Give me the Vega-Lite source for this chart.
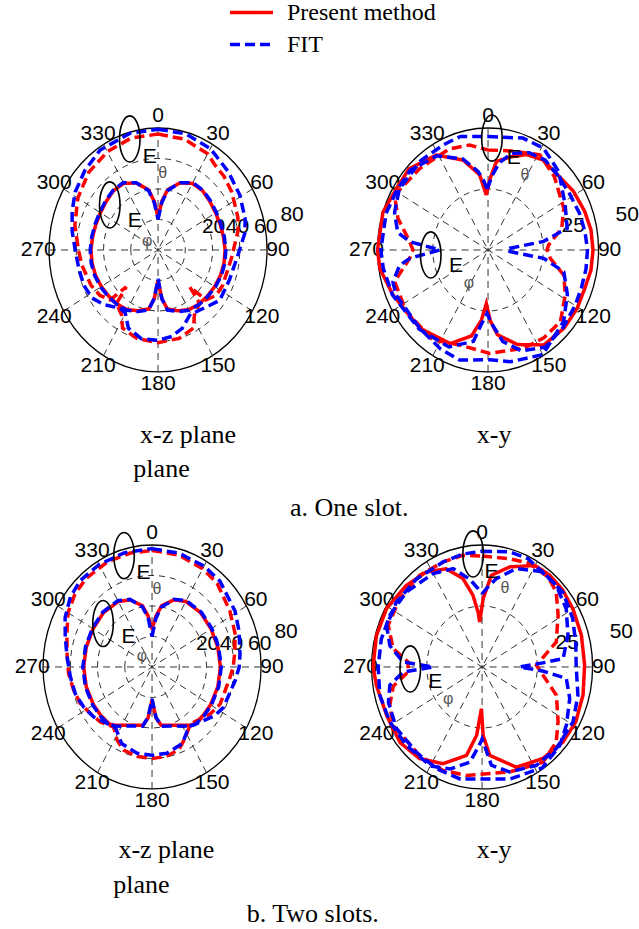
{
"$schema":"https://vega.github.io/schema/vega-lite/v6.json",
"padding":0,
"background":"white",
"config":{"view":{"stroke":null},
 "legend":{"orient":"none","legendX":230,"legendY":0,"symbolType":"M-2,0L2,0","symbolSize":462,"symbolOffset":9,"symbolStrokeWidth":3.5,"labelFont":"Liberation Serif","labelFontSize":24,"labelColor":"#000000","labelOffset":23,"rowPadding":7,"padding":0,"labelLimit":300}},
"resolve":{"scale":{"size":"independent"},"legend":{"size":"independent"}},
"datasets":{
"spokesXZ":[{"ang":0,"r":80},{"ang":30,"r":80},{"ang":60,"r":80},{"ang":90,"r":80},{"ang":120,"r":80},{"ang":150,"r":80},{"ang":180,"r":80},{"ang":210,"r":80},{"ang":240,"r":80},{"ang":270,"r":80},{"ang":300,"r":80},{"ang":330,"r":80}],
"spokesXY":[{"ang":0,"r":50},{"ang":30,"r":50},{"ang":60,"r":50},{"ang":90,"r":50},{"ang":120,"r":50},{"ang":150,"r":50},{"ang":180,"r":50},{"ang":210,"r":50},{"ang":240,"r":50},{"ang":270,"r":50},{"ang":300,"r":50},{"ang":330,"r":50}],
"ringsXZ":[{"ring":20},{"ring":40},{"ring":60}],
"outerXZ":[{"ring":80}],
"ringsXY":[{"ring":25}],
"outerXY":[{"ring":50}],
"angXZ":[{"ang":0,"r":88,"t":"0"},{"ang":30,"r":88,"t":"30"},{"ang":60,"r":88,"t":"60"},{"ang":90,"r":88,"t":"90"},{"ang":120,"r":88,"t":"120"},{"ang":150,"r":88,"t":"150"},{"ang":180,"r":88,"t":"180"},{"ang":210,"r":88,"t":"210"},{"ang":240,"r":88,"t":"240"},{"ang":270,"r":88,"t":"270"},{"ang":300,"r":88,"t":"300"},{"ang":330,"r":88,"t":"330"}],
"angXY":[{"ang":0,"r":55,"t":"0"},{"ang":30,"r":55,"t":"30"},{"ang":60,"r":55,"t":"60"},{"ang":90,"r":55,"t":"90"},{"ang":120,"r":55,"t":"120"},{"ang":150,"r":55,"t":"150"},{"ang":180,"r":55,"t":"180"},{"ang":210,"r":55,"t":"210"},{"ang":240,"r":55,"t":"240"},{"ang":270,"r":55,"t":"270"},{"ang":300,"r":55,"t":"300"},{"ang":330,"r":55,"t":"330"}],
"radXZ":[{"ang":69.6,"r":43.5,"t":"20"},{"ang":75.4,"r":60.3,"t":"40"},{"ang":79.1,"r":80.5,"t":"60"},{"ang":76.7,"r":101.1,"t":"80"}],
"radXY":[{"ang":75.9,"r":39.7,"t":"25"},{"ang":77.2,"r":64.6,"t":"50"}],
"annTL":[{"k":"ell","ang":344.1,"r":75.7},{"k":"ell","ang":309.8,"r":46.1},{"k":"E","ang":354.3,"r":61.3,"t":"E"},{"k":"E","ang":317.6,"r":25.4,"t":"E"},{"k":"s","ang":3.9,"r":50.3,"t":"θ"},{"k":"s","ang":306.8,"r":9.9,"t":"φ"}],
"annTR":[{"k":"ell","ang":2.2,"r":45.9},{"k":"ell","ang":265.5,"r":26},{"k":"E","ang":17.2,"r":39.3,"t":"E"},{"k":"E","ang":245.1,"r":16,"t":"E"},{"k":"s","ang":28.6,"r":35,"t":"θ"},{"k":"s","ang":212.6,"r":16,"t":"φ"}],
"annBL":[{"k":"ell","ang":344.3,"r":75.9},{"k":"ell","ang":308.4,"r":45.9},{"k":"E","ang":354.2,"r":61.9,"t":"E"},{"k":"E","ang":318.7,"r":26.2,"t":"E"},{"k":"s","ang":4.1,"r":51.3,"t":"θ"},{"k":"s","ang":314.4,"r":10.3,"t":"φ"}],
"annBR":[{"k":"ell","ang":355,"r":46.5},{"k":"ell","ang":268.6,"r":32.5},{"k":"E","ang":6.3,"r":39,"t":"E"},{"k":"E","ang":253.3,"r":22.1,"t":"E"},{"k":"s","ang":17.8,"r":34,"t":"θ"},{"k":"s","ang":229.5,"r":20.2,"t":"φ"}],
"cTL":[
{"m":"Present method","c":"t","ang":0,"r":76},{"m":"Present method","c":"t","ang":15,"r":75.2},{"m":"Present method","c":"t","ang":30,"r":72.8},{"m":"Present method","c":"t","ang":37,"r":69.6},{"m":"Present method","c":"t","ang":45,"r":68.4},{"m":"Present method","c":"t","ang":55,"r":66.1},{"m":"Present method","c":"t","ang":70,"r":62.4},{"m":"Present method","c":"t","ang":78,"r":60},{"m":"Present method","c":"t","ang":96,"r":54.1},{"m":"Present method","c":"t","ang":116,"r":52.8},{"m":"Present method","c":"t","ang":125,"r":52},{"m":"Present method","c":"t","ang":133,"r":48},{"m":"Present method","c":"t","ang":136,"r":33.6},{"m":"Present method","c":"t","ang":139,"r":46.4},{"m":"Present method","c":"t","ang":148,"r":50.4},{"m":"Present method","c":"t","ang":153,"r":57.4},{"m":"Present method","c":"t","ang":165,"r":60},{"m":"Present method","c":"t","ang":180,"r":60.8},{"m":"Present method","c":"t","ang":195,"r":60},{"m":"Present method","c":"t","ang":207,"r":57.4},{"m":"Present method","c":"t","ang":212,"r":50.4},{"m":"Present method","c":"t","ang":221,"r":46.4},{"m":"Present method","c":"t","ang":224,"r":33.6},{"m":"Present method","c":"t","ang":227,"r":48},{"m":"Present method","c":"t","ang":235,"r":52},{"m":"Present method","c":"t","ang":245,"r":54.4},{"m":"Present method","c":"t","ang":260,"r":56.8},{"m":"Present method","c":"t","ang":270,"r":58.4},{"m":"Present method","c":"t","ang":285,"r":63.2},{"m":"Present method","c":"t","ang":300,"r":68},{"m":"Present method","c":"t","ang":315,"r":72},{"m":"Present method","c":"t","ang":330,"r":74.4},{"m":"Present method","c":"t","ang":345,"r":76},{"m":"Present method","c":"t","ang":360,"r":76},
{"m":"Present method","c":"p","ang":0,"r":21.6},{"m":"Present method","c":"p","ang":5,"r":32},{"m":"Present method","c":"p","ang":10,"r":40},{"m":"Present method","c":"p","ang":20,"r":46.8},{"m":"Present method","c":"p","ang":30,"r":50.4},{"m":"Present method","c":"p","ang":40,"r":50.8},{"m":"Present method","c":"p","ang":50,"r":49.6},{"m":"Present method","c":"p","ang":60,"r":48.8},{"m":"Present method","c":"p","ang":70,"r":48.6},{"m":"Present method","c":"p","ang":80,"r":48.8},{"m":"Present method","c":"p","ang":90,"r":49.2},{"m":"Present method","c":"p","ang":100,"r":49.2},{"m":"Present method","c":"p","ang":110,"r":48.8},{"m":"Present method","c":"p","ang":120,"r":48},{"m":"Present method","c":"p","ang":130,"r":47.2},{"m":"Present method","c":"p","ang":140,"r":46.4},{"m":"Present method","c":"p","ang":150,"r":45.2},{"m":"Present method","c":"p","ang":160,"r":42.4},{"m":"Present method","c":"p","ang":170,"r":39.2},{"m":"Present method","c":"p","ang":175,"r":32},{"m":"Present method","c":"p","ang":180,"r":20},{"m":"Present method","c":"p","ang":185,"r":32},{"m":"Present method","c":"p","ang":190,"r":39.2},{"m":"Present method","c":"p","ang":200,"r":42.4},{"m":"Present method","c":"p","ang":210,"r":45.2},{"m":"Present method","c":"p","ang":220,"r":46.4},{"m":"Present method","c":"p","ang":230,"r":47.2},{"m":"Present method","c":"p","ang":240,"r":48},{"m":"Present method","c":"p","ang":250,"r":48.8},{"m":"Present method","c":"p","ang":260,"r":49.2},{"m":"Present method","c":"p","ang":270,"r":49.2},{"m":"Present method","c":"p","ang":280,"r":48.8},{"m":"Present method","c":"p","ang":290,"r":48.6},{"m":"Present method","c":"p","ang":300,"r":48.8},{"m":"Present method","c":"p","ang":310,"r":49.6},{"m":"Present method","c":"p","ang":320,"r":50.8},{"m":"Present method","c":"p","ang":330,"r":50.4},{"m":"Present method","c":"p","ang":340,"r":46.8},{"m":"Present method","c":"p","ang":350,"r":40},{"m":"Present method","c":"p","ang":355,"r":32},{"m":"Present method","c":"p","ang":360,"r":21.6},
{"m":"FIT","c":"t","ang":0,"r":79.2},{"m":"FIT","c":"t","ang":15,"r":78.8},{"m":"FIT","c":"t","ang":30,"r":76.8},{"m":"FIT","c":"t","ang":45,"r":72.8},{"m":"FIT","c":"t","ang":59,"r":70},{"m":"FIT","c":"t","ang":72,"r":67.2},{"m":"FIT","c":"t","ang":80,"r":64.8},{"m":"FIT","c":"t","ang":93,"r":58.8},{"m":"FIT","c":"t","ang":110,"r":56},{"m":"FIT","c":"t","ang":126,"r":56},{"m":"FIT","c":"t","ang":134,"r":52.4},{"m":"FIT","c":"t","ang":145,"r":49.3},{"m":"FIT","c":"t","ang":150,"r":48},{"m":"FIT","c":"t","ang":161,"r":54.4},{"m":"FIT","c":"t","ang":170,"r":57.6},{"m":"FIT","c":"t","ang":180,"r":59.2},{"m":"FIT","c":"t","ang":192,"r":59.4},{"m":"FIT","c":"t","ang":203,"r":55.7},{"m":"FIT","c":"t","ang":210,"r":48},{"m":"FIT","c":"t","ang":216,"r":47.2},{"m":"FIT","c":"t","ang":228,"r":53.6},{"m":"FIT","c":"t","ang":237,"r":57.8},{"m":"FIT","c":"t","ang":247,"r":59.2},{"m":"FIT","c":"t","ang":258,"r":59.4},{"m":"FIT","c":"t","ang":269,"r":60.6},{"m":"FIT","c":"t","ang":281,"r":64.2},{"m":"FIT","c":"t","ang":292,"r":68},{"m":"FIT","c":"t","ang":302,"r":71.7},{"m":"FIT","c":"t","ang":314,"r":74.8},{"m":"FIT","c":"t","ang":327,"r":78.1},{"m":"FIT","c":"t","ang":345,"r":79.2},{"m":"FIT","c":"t","ang":360,"r":79.2},
{"m":"FIT","c":"p","ang":0,"r":20},{"m":"FIT","c":"p","ang":5,"r":31},{"m":"FIT","c":"p","ang":10,"r":39.5},{"m":"FIT","c":"p","ang":20,"r":47},{"m":"FIT","c":"p","ang":30,"r":51},{"m":"FIT","c":"p","ang":40,"r":51.2},{"m":"FIT","c":"p","ang":50,"r":50.2},{"m":"FIT","c":"p","ang":60,"r":49.4},{"m":"FIT","c":"p","ang":70,"r":49.2},{"m":"FIT","c":"p","ang":80,"r":49.4},{"m":"FIT","c":"p","ang":90,"r":49.8},{"m":"FIT","c":"p","ang":100,"r":49.8},{"m":"FIT","c":"p","ang":110,"r":49.4},{"m":"FIT","c":"p","ang":120,"r":48.6},{"m":"FIT","c":"p","ang":130,"r":47.6},{"m":"FIT","c":"p","ang":140,"r":46.8},{"m":"FIT","c":"p","ang":150,"r":45.6},{"m":"FIT","c":"p","ang":160,"r":43},{"m":"FIT","c":"p","ang":170,"r":40},{"m":"FIT","c":"p","ang":175,"r":32},{"m":"FIT","c":"p","ang":180,"r":19},{"m":"FIT","c":"p","ang":185,"r":32},{"m":"FIT","c":"p","ang":190,"r":40},{"m":"FIT","c":"p","ang":200,"r":43},{"m":"FIT","c":"p","ang":210,"r":45.6},{"m":"FIT","c":"p","ang":220,"r":46.8},{"m":"FIT","c":"p","ang":230,"r":47.6},{"m":"FIT","c":"p","ang":240,"r":48.6},{"m":"FIT","c":"p","ang":250,"r":49.4},{"m":"FIT","c":"p","ang":260,"r":49.8},{"m":"FIT","c":"p","ang":270,"r":49.8},{"m":"FIT","c":"p","ang":280,"r":49.4},{"m":"FIT","c":"p","ang":290,"r":49.2},{"m":"FIT","c":"p","ang":300,"r":49.4},{"m":"FIT","c":"p","ang":310,"r":50.2},{"m":"FIT","c":"p","ang":320,"r":51.2},{"m":"FIT","c":"p","ang":330,"r":51},{"m":"FIT","c":"p","ang":340,"r":47},{"m":"FIT","c":"p","ang":350,"r":39.5},{"m":"FIT","c":"p","ang":355,"r":31},{"m":"FIT","c":"p","ang":360,"r":20}],
"cBL":[
{"m":"Present method","c":"t","ang":0,"r":76.4},{"m":"Present method","c":"t","ang":15,"r":76},{"m":"Present method","c":"t","ang":30,"r":74.4},{"m":"Present method","c":"t","ang":41,"r":72.8},{"m":"Present method","c":"t","ang":57,"r":68},{"m":"Present method","c":"t","ang":70,"r":64.8},{"m":"Present method","c":"t","ang":80,"r":61.8},{"m":"Present method","c":"t","ang":90,"r":59.6},{"m":"Present method","c":"t","ang":97,"r":57.6},{"m":"Present method","c":"t","ang":116,"r":55.6},{"m":"Present method","c":"t","ang":126,"r":52.6},{"m":"Present method","c":"t","ang":134,"r":49.2},{"m":"Present method","c":"t","ang":143,"r":46.8},{"m":"Present method","c":"t","ang":152,"r":52.3},{"m":"Present method","c":"t","ang":160,"r":57.6},{"m":"Present method","c":"t","ang":170,"r":59.6},{"m":"Present method","c":"t","ang":180,"r":60},{"m":"Present method","c":"t","ang":190,"r":59.6},{"m":"Present method","c":"t","ang":201,"r":58.4},{"m":"Present method","c":"t","ang":208,"r":54.5},{"m":"Present method","c":"t","ang":215.6,"r":48.4},{"m":"Present method","c":"t","ang":226.5,"r":52.3},{"m":"Present method","c":"t","ang":236,"r":54.6},{"m":"Present method","c":"t","ang":245.5,"r":57.8},{"m":"Present method","c":"t","ang":255,"r":59.5},{"m":"Present method","c":"t","ang":266,"r":61.4},{"m":"Present method","c":"t","ang":278,"r":63},{"m":"Present method","c":"t","ang":289,"r":66.1},{"m":"Present method","c":"t","ang":300,"r":71.2},{"m":"Present method","c":"t","ang":310,"r":74},{"m":"Present method","c":"t","ang":320,"r":75.6},{"m":"Present method","c":"t","ang":335,"r":76.4},{"m":"Present method","c":"t","ang":348,"r":76.4},{"m":"Present method","c":"t","ang":360,"r":76.4},
{"m":"Present method","c":"p","ang":0,"r":24.8},{"m":"Present method","c":"p","ang":5,"r":33.6},{"m":"Present method","c":"p","ang":10,"r":40.8},{"m":"Present method","c":"p","ang":20,"r":46.8},{"m":"Present method","c":"p","ang":30,"r":49.6},{"m":"Present method","c":"p","ang":45,"r":50.4},{"m":"Present method","c":"p","ang":60,"r":50},{"m":"Present method","c":"p","ang":75,"r":50},{"m":"Present method","c":"p","ang":90,"r":50.2},{"m":"Present method","c":"p","ang":105,"r":50},{"m":"Present method","c":"p","ang":120,"r":49.6},{"m":"Present method","c":"p","ang":130,"r":49.2},{"m":"Present method","c":"p","ang":140,"r":48.8},{"m":"Present method","c":"p","ang":145,"r":46.7},{"m":"Present method","c":"p","ang":150,"r":44.2},{"m":"Present method","c":"p","ang":160,"r":40.7},{"m":"Present method","c":"p","ang":170,"r":38.8},{"m":"Present method","c":"p","ang":175,"r":33.6},{"m":"Present method","c":"p","ang":180,"r":21.6},{"m":"Present method","c":"p","ang":185,"r":33.6},{"m":"Present method","c":"p","ang":190,"r":38.8},{"m":"Present method","c":"p","ang":200,"r":40.7},{"m":"Present method","c":"p","ang":210,"r":44.2},{"m":"Present method","c":"p","ang":215,"r":46.7},{"m":"Present method","c":"p","ang":220,"r":48.8},{"m":"Present method","c":"p","ang":230,"r":49.2},{"m":"Present method","c":"p","ang":240,"r":49.6},{"m":"Present method","c":"p","ang":255,"r":50},{"m":"Present method","c":"p","ang":270,"r":50.2},{"m":"Present method","c":"p","ang":285,"r":50},{"m":"Present method","c":"p","ang":300,"r":50},{"m":"Present method","c":"p","ang":315,"r":50.4},{"m":"Present method","c":"p","ang":330,"r":49.6},{"m":"Present method","c":"p","ang":340,"r":46.8},{"m":"Present method","c":"p","ang":350,"r":40.8},{"m":"Present method","c":"p","ang":355,"r":33.6},{"m":"Present method","c":"p","ang":360,"r":24.8},
{"m":"FIT","c":"t","ang":0,"r":77.6},{"m":"FIT","c":"t","ang":15,"r":77.2},{"m":"FIT","c":"t","ang":30,"r":76.4},{"m":"FIT","c":"t","ang":41.5,"r":75.2},{"m":"FIT","c":"t","ang":59,"r":71.1},{"m":"FIT","c":"t","ang":70,"r":68},{"m":"FIT","c":"t","ang":82.6,"r":65.1},{"m":"FIT","c":"t","ang":90,"r":64},{"m":"FIT","c":"t","ang":98.6,"r":61.6},{"m":"FIT","c":"t","ang":117,"r":58.7},{"m":"FIT","c":"t","ang":124.7,"r":56},{"m":"FIT","c":"t","ang":133,"r":51.6},{"m":"FIT","c":"t","ang":145.6,"r":47.6},{"m":"FIT","c":"t","ang":156,"r":54.9},{"m":"FIT","c":"t","ang":169,"r":57.6},{"m":"FIT","c":"t","ang":180,"r":57.9},{"m":"FIT","c":"t","ang":191,"r":57.6},{"m":"FIT","c":"t","ang":204,"r":54.9},{"m":"FIT","c":"t","ang":214,"r":48},{"m":"FIT","c":"t","ang":221.7,"r":49.6},{"m":"FIT","c":"t","ang":232.5,"r":53.9},{"m":"FIT","c":"t","ang":242,"r":56.6},{"m":"FIT","c":"t","ang":252.7,"r":59},{"m":"FIT","c":"t","ang":264,"r":60.3},{"m":"FIT","c":"t","ang":276,"r":62.7},{"m":"FIT","c":"t","ang":287,"r":66.6},{"m":"FIT","c":"t","ang":297,"r":71.6},{"m":"FIT","c":"t","ang":307.5,"r":75.5},{"m":"FIT","c":"t","ang":317,"r":77.4},{"m":"FIT","c":"t","ang":330,"r":77.6},{"m":"FIT","c":"t","ang":345,"r":77.6},{"m":"FIT","c":"t","ang":360,"r":77.6},
{"m":"FIT","c":"p","ang":0,"r":20},{"m":"FIT","c":"p","ang":5,"r":32},{"m":"FIT","c":"p","ang":10,"r":40},{"m":"FIT","c":"p","ang":20,"r":47.2},{"m":"FIT","c":"p","ang":30,"r":50.2},{"m":"FIT","c":"p","ang":45,"r":51},{"m":"FIT","c":"p","ang":60,"r":50.6},{"m":"FIT","c":"p","ang":75,"r":50.6},{"m":"FIT","c":"p","ang":90,"r":50.8},{"m":"FIT","c":"p","ang":105,"r":50.6},{"m":"FIT","c":"p","ang":120,"r":50.2},{"m":"FIT","c":"p","ang":130,"r":49.8},{"m":"FIT","c":"p","ang":140,"r":49.2},{"m":"FIT","c":"p","ang":145,"r":47.2},{"m":"FIT","c":"p","ang":150,"r":44.8},{"m":"FIT","c":"p","ang":160,"r":41.2},{"m":"FIT","c":"p","ang":170,"r":39.4},{"m":"FIT","c":"p","ang":175,"r":33},{"m":"FIT","c":"p","ang":180,"r":21},{"m":"FIT","c":"p","ang":185,"r":33},{"m":"FIT","c":"p","ang":190,"r":39.4},{"m":"FIT","c":"p","ang":200,"r":41.2},{"m":"FIT","c":"p","ang":210,"r":44.8},{"m":"FIT","c":"p","ang":215,"r":47.2},{"m":"FIT","c":"p","ang":220,"r":49.2},{"m":"FIT","c":"p","ang":230,"r":49.8},{"m":"FIT","c":"p","ang":240,"r":50.2},{"m":"FIT","c":"p","ang":255,"r":50.6},{"m":"FIT","c":"p","ang":270,"r":50.8},{"m":"FIT","c":"p","ang":285,"r":50.6},{"m":"FIT","c":"p","ang":300,"r":50.6},{"m":"FIT","c":"p","ang":315,"r":51},{"m":"FIT","c":"p","ang":330,"r":50.2},{"m":"FIT","c":"p","ang":340,"r":47.2},{"m":"FIT","c":"p","ang":350,"r":40},{"m":"FIT","c":"p","ang":355,"r":32},{"m":"FIT","c":"p","ang":360,"r":20}],
"cTR":[
{"m":"Present method","c":"t","ang":0,"r":41},{"m":"Present method","c":"t","ang":15,"r":42},{"m":"Present method","c":"t","ang":31,"r":45.5},{"m":"Present method","c":"t","ang":45,"r":42.5},{"m":"Present method","c":"t","ang":53,"r":40},{"m":"Present method","c":"t","ang":63.5,"r":38.3},{"m":"Present method","c":"t","ang":75,"r":34.5},{"m":"Present method","c":"t","ang":85.7,"r":27.5},{"m":"Present method","c":"t","ang":90,"r":26.7},{"m":"Present method","c":"t","ang":97,"r":28.4},{"m":"Present method","c":"t","ang":106.7,"r":35.8},{"m":"Present method","c":"t","ang":117.8,"r":39.5},{"m":"Present method","c":"t","ang":131.9,"r":44},{"m":"Present method","c":"t","ang":145,"r":44},{"m":"Present method","c":"t","ang":158,"r":43.4},{"m":"Present method","c":"t","ang":178.8,"r":42.4},{"m":"Present method","c":"t","ang":198,"r":41},{"m":"Present method","c":"t","ang":214,"r":44.5},{"m":"Present method","c":"t","ang":235.6,"r":44.8},{"m":"Present method","c":"t","ang":253,"r":44.2},{"m":"Present method","c":"t","ang":264.5,"r":35.6},{"m":"Present method","c":"t","ang":270,"r":34},{"m":"Present method","c":"t","ang":275.5,"r":35.6},{"m":"Present method","c":"t","ang":287.7,"r":42.8},{"m":"Present method","c":"t","ang":298,"r":47.9},{"m":"Present method","c":"t","ang":317,"r":45.5},{"m":"Present method","c":"t","ang":337,"r":45},{"m":"Present method","c":"t","ang":349,"r":43.8},{"m":"Present method","c":"t","ang":360,"r":41},
{"m":"Present method","c":"p","ang":-2,"r":22.5},{"m":"Present method","c":"p","ang":2,"r":29.5},{"m":"Present method","c":"p","ang":6,"r":36.5},{"m":"Present method","c":"p","ang":15,"r":39.5},{"m":"Present method","c":"p","ang":24,"r":42.8},{"m":"Present method","c":"p","ang":34,"r":44.5},{"m":"Present method","c":"p","ang":45,"r":44},{"m":"Present method","c":"p","ang":58,"r":45.5},{"m":"Present method","c":"p","ang":70,"r":46.5},{"m":"Present method","c":"p","ang":80,"r":47.3},{"m":"Present method","c":"p","ang":90,"r":47.5},{"m":"Present method","c":"p","ang":100,"r":47.3},{"m":"Present method","c":"p","ang":110,"r":46.5},{"m":"Present method","c":"p","ang":121,"r":46.9},{"m":"Present method","c":"p","ang":133,"r":47},{"m":"Present method","c":"p","ang":147,"r":46.4},{"m":"Present method","c":"p","ang":161,"r":41},{"m":"Present method","c":"p","ang":173,"r":35},{"m":"Present method","c":"p","ang":178,"r":29},{"m":"Present method","c":"p","ang":182,"r":22},{"m":"Present method","c":"p","ang":186,"r":29},{"m":"Present method","c":"p","ang":192,"r":36},{"m":"Present method","c":"p","ang":204,"r":42},{"m":"Present method","c":"p","ang":224,"r":44.5},{"m":"Present method","c":"p","ang":247,"r":46.8},{"m":"Present method","c":"p","ang":261,"r":49.5},{"m":"Present method","c":"p","ang":270,"r":50},{"m":"Present method","c":"p","ang":288,"r":50},{"m":"Present method","c":"p","ang":301,"r":48.5},{"m":"Present method","c":"p","ang":313,"r":48.8},{"m":"Present method","c":"p","ang":329,"r":45.4},{"m":"Present method","c":"p","ang":343,"r":38.5},{"m":"Present method","c":"p","ang":353,"r":31},{"m":"Present method","c":"p","ang":358,"r":22.5},
{"m":"FIT","c":"t","ang":0,"r":46.5},{"m":"FIT","c":"t","ang":19,"r":48.5},{"m":"FIT","c":"t","ang":31,"r":48.7},{"m":"FIT","c":"t","ang":45,"r":45.3},{"m":"FIT","c":"t","ang":62,"r":39.5},{"m":"FIT","c":"t","ang":76,"r":36.9},{"m":"FIT","c":"t","ang":82,"r":25.4},{"m":"FIT","c":"t","ang":86,"r":10},{"m":"FIT","c":"t","ang":90,"r":8.5},{"m":"FIT","c":"t","ang":94,"r":10},{"m":"FIT","c":"t","ang":97.7,"r":25.4},{"m":"FIT","c":"t","ang":104.6,"r":35.4},{"m":"FIT","c":"t","ang":117,"r":40.3},{"m":"FIT","c":"t","ang":130.6,"r":45},{"m":"FIT","c":"t","ang":150,"r":49.5},{"m":"FIT","c":"t","ang":167.7,"r":46.9},{"m":"FIT","c":"t","ang":179,"r":45},{"m":"FIT","c":"t","ang":196,"r":46.9},{"m":"FIT","c":"t","ang":208,"r":45.9},{"m":"FIT","c":"t","ang":224,"r":44.5},{"m":"FIT","c":"t","ang":246,"r":45.5},{"m":"FIT","c":"t","ang":253,"r":45},{"m":"FIT","c":"t","ang":261,"r":40.5},{"m":"FIT","c":"t","ang":264.5,"r":35.5},{"m":"FIT","c":"t","ang":270,"r":21.8},{"m":"FIT","c":"t","ang":275.5,"r":35.5},{"m":"FIT","c":"t","ang":280,"r":41.5},{"m":"FIT","c":"t","ang":290,"r":45},{"m":"FIT","c":"t","ang":302,"r":47.3},{"m":"FIT","c":"t","ang":320.5,"r":47.6},{"m":"FIT","c":"t","ang":335,"r":47.6},{"m":"FIT","c":"t","ang":345,"r":48.2},{"m":"FIT","c":"t","ang":360,"r":46.5},
{"m":"FIT","c":"p","ang":-1,"r":25},{"m":"FIT","c":"p","ang":4,"r":31},{"m":"FIT","c":"p","ang":8,"r":36},{"m":"FIT","c":"p","ang":15,"r":41},{"m":"FIT","c":"p","ang":25,"r":44},{"m":"FIT","c":"p","ang":35,"r":45},{"m":"FIT","c":"p","ang":45,"r":44},{"m":"FIT","c":"p","ang":58,"r":43.5},{"m":"FIT","c":"p","ang":70,"r":44},{"m":"FIT","c":"p","ang":80,"r":44.5},{"m":"FIT","c":"p","ang":90,"r":45},{"m":"FIT","c":"p","ang":100,"r":45},{"m":"FIT","c":"p","ang":110,"r":45},{"m":"FIT","c":"p","ang":120,"r":45.5},{"m":"FIT","c":"p","ang":133,"r":46.5},{"m":"FIT","c":"p","ang":147,"r":47.5},{"m":"FIT","c":"p","ang":160,"r":44},{"m":"FIT","c":"p","ang":170,"r":38},{"m":"FIT","c":"p","ang":176,"r":31},{"m":"FIT","c":"p","ang":181,"r":26},{"m":"FIT","c":"p","ang":186,"r":31},{"m":"FIT","c":"p","ang":190,"r":38},{"m":"FIT","c":"p","ang":204,"r":43.5},{"m":"FIT","c":"p","ang":224,"r":45},{"m":"FIT","c":"p","ang":247,"r":47},{"m":"FIT","c":"p","ang":261,"r":48},{"m":"FIT","c":"p","ang":270,"r":48.5},{"m":"FIT","c":"p","ang":288,"r":48.5},{"m":"FIT","c":"p","ang":301,"r":48},{"m":"FIT","c":"p","ang":313,"r":48},{"m":"FIT","c":"p","ang":329,"r":45},{"m":"FIT","c":"p","ang":343,"r":39},{"m":"FIT","c":"p","ang":352,"r":32.5},{"m":"FIT","c":"p","ang":356,"r":28.5},{"m":"FIT","c":"p","ang":359,"r":25}],
"cBR":[
{"m":"Present method","c":"t","ang":0,"r":45.5},{"m":"Present method","c":"t","ang":15.7,"r":46.1},{"m":"Present method","c":"t","ang":26.6,"r":47.5},{"m":"Present method","c":"t","ang":39,"r":47.5},{"m":"Present method","c":"t","ang":47.5,"r":45.5},{"m":"Present method","c":"t","ang":58.4,"r":40.4},{"m":"Present method","c":"t","ang":73,"r":35.1},{"m":"Present method","c":"t","ang":81.8,"r":27.9},{"m":"Present method","c":"t","ang":88.4,"r":24.6},{"m":"Present method","c":"t","ang":97,"r":27.8},{"m":"Present method","c":"t","ang":109,"r":35.6},{"m":"Present method","c":"t","ang":123,"r":41},{"m":"Present method","c":"t","ang":132.5,"r":45.5},{"m":"Present method","c":"t","ang":144.8,"r":47.8},{"m":"Present method","c":"t","ang":163.8,"r":44.8},{"m":"Present method","c":"t","ang":189,"r":45},{"m":"Present method","c":"t","ang":202.6,"r":45.9},{"m":"Present method","c":"t","ang":217.8,"r":46},{"m":"Present method","c":"t","ang":239,"r":46.8},{"m":"Present method","c":"t","ang":249.4,"r":44.6},{"m":"Present method","c":"t","ang":259,"r":40.9},{"m":"Present method","c":"t","ang":266.5,"r":33.5},{"m":"Present method","c":"t","ang":270,"r":33.5},{"m":"Present method","c":"t","ang":273.5,"r":33.5},{"m":"Present method","c":"t","ang":280.6,"r":40.9},{"m":"Present method","c":"t","ang":292,"r":45.8},{"m":"Present method","c":"t","ang":307,"r":46.6},{"m":"Present method","c":"t","ang":323,"r":47},{"m":"Present method","c":"t","ang":337.8,"r":46.5},{"m":"Present method","c":"t","ang":349,"r":46.6},{"m":"Present method","c":"t","ang":360,"r":45.5},
{"m":"Present method","c":"p","ang":-3.3,"r":18.5},{"m":"Present method","c":"p","ang":1,"r":28},{"m":"Present method","c":"p","ang":6.4,"r":37.8},{"m":"Present method","c":"p","ang":17,"r":42.9},{"m":"Present method","c":"p","ang":30,"r":48},{"m":"Present method","c":"p","ang":39,"r":48.5},{"m":"Present method","c":"p","ang":48.7,"r":48.3},{"m":"Present method","c":"p","ang":60,"r":47.5},{"m":"Present method","c":"p","ang":73.8,"r":46.8},{"m":"Present method","c":"p","ang":89,"r":46.4},{"m":"Present method","c":"p","ang":104,"r":47.1},{"m":"Present method","c":"p","ang":118,"r":48},{"m":"Present method","c":"p","ang":130,"r":47.8},{"m":"Present method","c":"p","ang":143.7,"r":46.5},{"m":"Present method","c":"p","ang":159.3,"r":43.9},{"m":"Present method","c":"p","ang":174.5,"r":36.4},{"m":"Present method","c":"p","ang":179,"r":28},{"m":"Present method","c":"p","ang":181,"r":17.1},{"m":"Present method","c":"p","ang":185,"r":28.1},{"m":"Present method","c":"p","ang":191,"r":36.9},{"m":"Present method","c":"p","ang":204,"r":43.4},{"m":"Present method","c":"p","ang":217,"r":47},{"m":"Present method","c":"p","ang":230,"r":48.3},{"m":"Present method","c":"p","ang":245,"r":47.5},{"m":"Present method","c":"p","ang":261,"r":48.4},{"m":"Present method","c":"p","ang":270,"r":49.3},{"m":"Present method","c":"p","ang":285,"r":49.5},{"m":"Present method","c":"p","ang":299,"r":49.4},{"m":"Present method","c":"p","ang":314,"r":47.9},{"m":"Present method","c":"p","ang":327,"r":46.4},{"m":"Present method","c":"p","ang":338,"r":43.4},{"m":"Present method","c":"p","ang":346.6,"r":37.2},{"m":"Present method","c":"p","ang":352,"r":29.7},{"m":"Present method","c":"p","ang":355.4,"r":22.6},{"m":"Present method","c":"p","ang":356.7,"r":18.5},
{"m":"FIT","c":"t","ang":0,"r":47.4},{"m":"FIT","c":"t","ang":14.7,"r":48.8},{"m":"FIT","c":"t","ang":25,"r":49},{"m":"FIT","c":"t","ang":45,"r":47.4},{"m":"FIT","c":"t","ang":58,"r":44.9},{"m":"FIT","c":"t","ang":71.5,"r":41},{"m":"FIT","c":"t","ang":84.7,"r":36.8},{"m":"FIT","c":"t","ang":86.5,"r":27.5},{"m":"FIT","c":"t","ang":90,"r":17},{"m":"FIT","c":"t","ang":93.5,"r":27.5},{"m":"FIT","c":"t","ang":97,"r":38.4},{"m":"FIT","c":"t","ang":108,"r":41.7},{"m":"FIT","c":"t","ang":122,"r":45},{"m":"FIT","c":"t","ang":132.6,"r":47.7},{"m":"FIT","c":"t","ang":146.6,"r":49.5},{"m":"FIT","c":"t","ang":164.8,"r":47.6},{"m":"FIT","c":"t","ang":179.4,"r":45.9},{"m":"FIT","c":"t","ang":192,"r":47},{"m":"FIT","c":"t","ang":206,"r":46.5},{"m":"FIT","c":"t","ang":220,"r":45.9},{"m":"FIT","c":"t","ang":237,"r":46.2},{"m":"FIT","c":"t","ang":251,"r":44.8},{"m":"FIT","c":"t","ang":259.8,"r":42.4},{"m":"FIT","c":"t","ang":266.7,"r":35.8},{"m":"FIT","c":"t","ang":270,"r":22.2},{"m":"FIT","c":"t","ang":273.3,"r":35.8},{"m":"FIT","c":"t","ang":281.8,"r":42.6},{"m":"FIT","c":"t","ang":291.4,"r":46.4},{"m":"FIT","c":"t","ang":304.5,"r":47},{"m":"FIT","c":"t","ang":320.6,"r":46.7},{"m":"FIT","c":"t","ang":337.8,"r":46.5},{"m":"FIT","c":"t","ang":349.5,"r":47.1},{"m":"FIT","c":"t","ang":360,"r":47.4},
{"m":"FIT","c":"p","ang":0,"r":30},{"m":"FIT","c":"p","ang":3.5,"r":32.2},{"m":"FIT","c":"p","ang":10,"r":36.7},{"m":"FIT","c":"p","ang":21,"r":43.2},{"m":"FIT","c":"p","ang":35,"r":47.7},{"m":"FIT","c":"p","ang":50,"r":47.7},{"m":"FIT","c":"p","ang":64,"r":45.6},{"m":"FIT","c":"p","ang":77,"r":43.5},{"m":"FIT","c":"p","ang":90,"r":42.6},{"m":"FIT","c":"p","ang":105,"r":44.9},{"m":"FIT","c":"p","ang":118.7,"r":46.9},{"m":"FIT","c":"p","ang":134.9,"r":47.4},{"m":"FIT","c":"p","ang":148.6,"r":47.2},{"m":"FIT","c":"p","ang":163.8,"r":44.8},{"m":"FIT","c":"p","ang":174,"r":40.5},{"m":"FIT","c":"p","ang":179,"r":30.8},{"m":"FIT","c":"p","ang":180,"r":29.5},{"m":"FIT","c":"p","ang":181,"r":30.8},{"m":"FIT","c":"p","ang":188,"r":39.4},{"m":"FIT","c":"p","ang":199,"r":44.2},{"m":"FIT","c":"p","ang":210,"r":46.8},{"m":"FIT","c":"p","ang":226.8,"r":46.9},{"m":"FIT","c":"p","ang":241.6,"r":47.4},{"m":"FIT","c":"p","ang":256,"r":47.7},{"m":"FIT","c":"p","ang":270,"r":47},{"m":"FIT","c":"p","ang":284,"r":47},{"m":"FIT","c":"p","ang":297,"r":46.8},{"m":"FIT","c":"p","ang":312,"r":46},{"m":"FIT","c":"p","ang":330,"r":44.2},{"m":"FIT","c":"p","ang":342,"r":42.4},{"m":"FIT","c":"p","ang":351,"r":36.5},{"m":"FIT","c":"p","ang":356.8,"r":32.2},{"m":"FIT","c":"p","ang":360,"r":30}]
},
"columns":2,
"spacing":{"row":0,"column":22},
"bounds":"flush",
"concat":[
{"width":308,"height":417,
 "layer":[
  {"data":{"name":"ringsXZ"},"mark":{"type":"point","shape":"M-1,0C-1,-0.618 -0.552,-1.119 0,-1.119C0.552,-1.119 1,-0.618 1,0C1,0.618 0.552,1.119 0,1.119C-0.552,1.119 -1,0.618 -1,0Z","filled":false,"stroke":"#333333","strokeWidth":1,"strokeDash":[6,5],"opacity":1},
   "encoding":{"x":{"datum":0,"type":"quantitative","scale":{"domain":[-116,110.08],"nice":false},"axis":null},"y":{"datum":0,"type":"quantitative","scale":{"domain":[-109.52,163.92],"nice":false},"axis":null},"size":{"field":"ring","type":"quantitative","scale":{"type":"pow","exponent":2,"domain":[0,80],"range":[0,47524]},"legend":null}}},
  {"data":{"name":"outerXZ"},"mark":{"type":"point","shape":"M-1,0C-1,-0.618 -0.552,-1.119 0,-1.119C0.552,-1.119 1,-0.618 1,0C1,0.618 0.552,1.119 0,1.119C-0.552,1.119 -1,0.618 -1,0Z","filled":false,"stroke":"#000000","strokeWidth":1.3,"opacity":1},
   "encoding":{"x":{"datum":0,"type":"quantitative","scale":{"domain":[-116,110.08],"nice":false},"axis":null},"y":{"datum":0,"type":"quantitative","scale":{"domain":[-109.52,163.92],"nice":false},"axis":null},"size":{"field":"ring","type":"quantitative","scale":{"type":"pow","exponent":2,"domain":[0,80],"range":[0,47524]},"legend":null}}},
  {"data":{"name":"spokesXZ"},"transform":[{"calculate":"datum.r*sin(datum.ang*PI/180)","as":"px"},{"calculate":"datum.r*cos(datum.ang*PI/180)","as":"py"}],
   "mark":{"type":"rule","stroke":"#333333","strokeWidth":1,"strokeDash":[7,5]},
   "encoding":{"x":{"field":"px","type":"quantitative","scale":{"domain":[-116,110.08],"nice":false},"axis":null},"y":{"field":"py","type":"quantitative","scale":{"domain":[-109.52,163.92],"nice":false},"axis":null},"x2":{"datum":0},"y2":{"datum":0}}},
  {"data":{"name":"angXZ"},"transform":[{"calculate":"datum.r*sin(datum.ang*PI/180)","as":"px"},{"calculate":"datum.r*cos(datum.ang*PI/180)","as":"py"}],
   "mark":{"type":"text","font":"Liberation Sans","fontSize":21,"align":"center","baseline":"middle","color":"#000000"},
   "encoding":{"x":{"field":"px","type":"quantitative","scale":{"domain":[-116,110.08],"nice":false},"axis":null},"y":{"field":"py","type":"quantitative","scale":{"domain":[-109.52,163.92],"nice":false},"axis":null},"text":{"field":"t"}}},
  {"data":{"name":"radXZ"},"transform":[{"calculate":"datum.r*sin(datum.ang*PI/180)","as":"px"},{"calculate":"datum.r*cos(datum.ang*PI/180)","as":"py"}],
   "mark":{"type":"text","font":"Liberation Sans","fontSize":21,"align":"center","baseline":"middle","color":"#000000"},
   "encoding":{"x":{"field":"px","type":"quantitative","scale":{"domain":[-116,110.08],"nice":false},"axis":null},"y":{"field":"py","type":"quantitative","scale":{"domain":[-109.52,163.92],"nice":false},"axis":null},"text":{"field":"t"}}},
  {"data":{"name":"cTL"},"transform":[{"filter":"datum.m == 'Present method' && datum.c == 't'"},{"calculate":"datum.r*sin(datum.ang*PI/180)","as":"px"},{"calculate":"datum.r*cos(datum.ang*PI/180)","as":"py"}],
   "mark":{"type":"line","stroke":"#ff0000","strokeWidth":3.5,"strokeDash":[10,5]},
   "encoding":{"x":{"field":"px","type":"quantitative","scale":{"domain":[-116,110.08],"nice":false},"axis":null},"y":{"field":"py","type":"quantitative","scale":{"domain":[-109.52,163.92],"nice":false},"axis":null},"order":{"field":"ang","type":"quantitative"}}},
  {"data":{"name":"cTL"},"transform":[{"filter":"!(datum.m == 'Present method' && datum.c == 't')"},{"calculate":"datum.r*sin(datum.ang*PI/180)","as":"px"},{"calculate":"datum.r*cos(datum.ang*PI/180)","as":"py"}],
   "mark":{"type":"line","strokeWidth":3.5},
   "encoding":{"x":{"field":"px","type":"quantitative","scale":{"domain":[-116,110.08],"nice":false},"axis":null},"y":{"field":"py","type":"quantitative","scale":{"domain":[-109.52,163.92],"nice":false},"axis":null},"order":{"field":"ang","type":"quantitative"},"detail":{"field":"c"},
    "color":{"field":"m","type":"nominal","scale":{"domain":["Present method","FIT"],"range":["#ff0000","#0000ff"]},"legend":{"title":null}},
    "strokeDash":{"field":"m","type":"nominal","scale":{"domain":["Present method","FIT"],"range":[[1,0],[10,5]]},"legend":{"title":null}}}},
  {"data":{"name":"annTL"},"transform":[{"filter":"datum.k == 'ell'"},{"calculate":"datum.r*sin(datum.ang*PI/180)","as":"px"},{"calculate":"datum.r*cos(datum.ang*PI/180)","as":"py"}],
   "mark":{"type":"point","shape":"M-1,0C-1,-1.243 -0.552,-2.25 0,-2.25C0.552,-2.25 1,-1.243 1,0C1,1.243 0.552,2.25 0,2.25C-0.552,2.25 -1,1.243 -1,0Z","filled":false,"stroke":"#000000","strokeWidth":1.6,"opacity":1,"size":420},
   "encoding":{"x":{"field":"px","type":"quantitative","scale":{"domain":[-116,110.08],"nice":false},"axis":null},"y":{"field":"py","type":"quantitative","scale":{"domain":[-109.52,163.92],"nice":false},"axis":null}}},
  {"data":{"name":"annTL"},"transform":[{"filter":"datum.k == 'E'"},{"calculate":"datum.r*sin(datum.ang*PI/180)","as":"px"},{"calculate":"datum.r*cos(datum.ang*PI/180)","as":"py"}],
   "mark":{"type":"text","font":"Liberation Sans","fontSize":21,"align":"center","baseline":"middle","color":"#000000"},
   "encoding":{"x":{"field":"px","type":"quantitative","scale":{"domain":[-116,110.08],"nice":false},"axis":null},"y":{"field":"py","type":"quantitative","scale":{"domain":[-109.52,163.92],"nice":false},"axis":null},"text":{"field":"t"}}},
  {"data":{"name":"annTL"},"transform":[{"filter":"datum.k == 's'"},{"calculate":"datum.r*sin(datum.ang*PI/180)","as":"px"},{"calculate":"datum.r*cos(datum.ang*PI/180)","as":"py"}],
   "mark":{"type":"text","font":"Liberation Sans","fontSize":16,"align":"center","baseline":"middle","color":"#555555"},
   "encoding":{"x":{"field":"px","type":"quantitative","scale":{"domain":[-116,110.08],"nice":false},"axis":null},"y":{"field":"py","type":"quantitative","scale":{"domain":[-109.52,163.92],"nice":false},"axis":null},"text":{"field":"t"}}},
  {"data":{"values":[{"t":"x-z plane"}]},"mark":{"type":"text","font":"Liberation Serif","fontSize":26,"align":"left","baseline":"alphabetic","color":"#000000"},
   "encoding":{"x":{"datum":-13.2,"type":"quantitative","scale":{"domain":[-116,110.08],"nice":false},"axis":null},"y":{"datum":-126.6,"type":"quantitative","scale":{"domain":[-109.52,163.92],"nice":false},"axis":null},"text":{"field":"t"}}},
  {"data":{"values":[{"t":"plane"}]},"mark":{"type":"text","font":"Liberation Serif","fontSize":26,"align":"left","baseline":"alphabetic","color":"#000000"},
   "encoding":{"x":{"datum":-18.1,"type":"quantitative","scale":{"domain":[-116,110.08],"nice":false},"axis":null},"y":{"datum":-148.9,"type":"quantitative","scale":{"domain":[-109.52,163.92],"nice":false},"axis":null},"text":{"field":"t"}}},
  {"data":{"values":[{"t":"a. One slot."}]},"mark":{"type":"text","font":"Liberation Serif","fontSize":26,"align":"left","baseline":"alphabetic","color":"#000000"},
   "encoding":{"x":{"datum":96.9,"type":"quantitative","scale":{"domain":[-116,110.08],"nice":false},"axis":null},"y":{"datum":-174.4,"type":"quantitative","scale":{"domain":[-109.52,163.92],"nice":false},"axis":null},"text":{"field":"t"}}}
 ]},
{"width":308,"height":417,
 "layer":[
  {"data":{"name":"ringsXY"},"mark":{"type":"point","shape":"M-1,0C-1,-0.61 -0.552,-1.104 0,-1.104C0.552,-1.104 1,-0.61 1,0C1,0.61 0.552,1.104 0,1.104C-0.552,1.104 -1,0.61 -1,0Z","filled":false,"stroke":"#333333","strokeWidth":1,"strokeDash":[6,5],"opacity":1},
   "encoding":{"x":{"datum":0,"type":"quantitative","scale":{"domain":[-71.5,67.85],"nice":false},"axis":null},"y":{"datum":0,"type":"quantitative","scale":{"domain":[-68.45,102.45],"nice":false},"axis":null},"size":{"field":"ring","type":"quantitative","scale":{"type":"pow","exponent":2,"domain":[0,50],"range":[0,48841]},"legend":null}}},
  {"data":{"name":"outerXY"},"mark":{"type":"point","shape":"M-1,0C-1,-0.61 -0.552,-1.104 0,-1.104C0.552,-1.104 1,-0.61 1,0C1,0.61 0.552,1.104 0,1.104C-0.552,1.104 -1,0.61 -1,0Z","filled":false,"stroke":"#000000","strokeWidth":1.3,"opacity":1},
   "encoding":{"x":{"datum":0,"type":"quantitative","scale":{"domain":[-71.5,67.85],"nice":false},"axis":null},"y":{"datum":0,"type":"quantitative","scale":{"domain":[-68.45,102.45],"nice":false},"axis":null},"size":{"field":"ring","type":"quantitative","scale":{"type":"pow","exponent":2,"domain":[0,50],"range":[0,48841]},"legend":null}}},
  {"data":{"name":"spokesXY"},"transform":[{"calculate":"datum.r*sin(datum.ang*PI/180)","as":"px"},{"calculate":"datum.r*cos(datum.ang*PI/180)","as":"py"}],
   "mark":{"type":"rule","stroke":"#333333","strokeWidth":1,"strokeDash":[7,5]},
   "encoding":{"x":{"field":"px","type":"quantitative","scale":{"domain":[-71.5,67.85],"nice":false},"axis":null},"y":{"field":"py","type":"quantitative","scale":{"domain":[-68.45,102.45],"nice":false},"axis":null},"x2":{"datum":0},"y2":{"datum":0}}},
  {"data":{"name":"angXY"},"transform":[{"calculate":"datum.r*sin(datum.ang*PI/180)","as":"px"},{"calculate":"datum.r*cos(datum.ang*PI/180)","as":"py"}],
   "mark":{"type":"text","font":"Liberation Sans","fontSize":21,"align":"center","baseline":"middle","color":"#000000"},
   "encoding":{"x":{"field":"px","type":"quantitative","scale":{"domain":[-71.5,67.85],"nice":false},"axis":null},"y":{"field":"py","type":"quantitative","scale":{"domain":[-68.45,102.45],"nice":false},"axis":null},"text":{"field":"t"}}},
  {"data":{"name":"radXY"},"transform":[{"calculate":"datum.r*sin(datum.ang*PI/180)","as":"px"},{"calculate":"datum.r*cos(datum.ang*PI/180)","as":"py"}],
   "mark":{"type":"text","font":"Liberation Sans","fontSize":21,"align":"center","baseline":"middle","color":"#000000"},
   "encoding":{"x":{"field":"px","type":"quantitative","scale":{"domain":[-71.5,67.85],"nice":false},"axis":null},"y":{"field":"py","type":"quantitative","scale":{"domain":[-68.45,102.45],"nice":false},"axis":null},"text":{"field":"t"}}},
  {"data":{"name":"cTR"},"transform":[{"filter":"datum.m == 'Present method' && datum.c == 't'"},{"calculate":"datum.r*sin(datum.ang*PI/180)","as":"px"},{"calculate":"datum.r*cos(datum.ang*PI/180)","as":"py"}],
   "mark":{"type":"line","stroke":"#ff0000","strokeWidth":3.5,"strokeDash":[10,5]},
   "encoding":{"x":{"field":"px","type":"quantitative","scale":{"domain":[-71.5,67.85],"nice":false},"axis":null},"y":{"field":"py","type":"quantitative","scale":{"domain":[-68.45,102.45],"nice":false},"axis":null},"order":{"field":"ang","type":"quantitative"}}},
  {"data":{"name":"cTR"},"transform":[{"filter":"!(datum.m == 'Present method' && datum.c == 't')"},{"calculate":"datum.r*sin(datum.ang*PI/180)","as":"px"},{"calculate":"datum.r*cos(datum.ang*PI/180)","as":"py"}],
   "mark":{"type":"line","strokeWidth":3.5},
   "encoding":{"x":{"field":"px","type":"quantitative","scale":{"domain":[-71.5,67.85],"nice":false},"axis":null},"y":{"field":"py","type":"quantitative","scale":{"domain":[-68.45,102.45],"nice":false},"axis":null},"order":{"field":"ang","type":"quantitative"},"detail":{"field":"c"},
    "color":{"field":"m","type":"nominal","scale":{"domain":["Present method","FIT"],"range":["#ff0000","#0000ff"]},"legend":{"title":null}},
    "strokeDash":{"field":"m","type":"nominal","scale":{"domain":["Present method","FIT"],"range":[[1,0],[10,5]]},"legend":{"title":null}}}},
  {"data":{"name":"annTR"},"transform":[{"filter":"datum.k == 'ell'"},{"calculate":"datum.r*sin(datum.ang*PI/180)","as":"px"},{"calculate":"datum.r*cos(datum.ang*PI/180)","as":"py"}],
   "mark":{"type":"point","shape":"M-1,0C-1,-1.243 -0.552,-2.25 0,-2.25C0.552,-2.25 1,-1.243 1,0C1,1.243 0.552,2.25 0,2.25C-0.552,2.25 -1,1.243 -1,0Z","filled":false,"stroke":"#000000","strokeWidth":1.6,"opacity":1,"size":420},
   "encoding":{"x":{"field":"px","type":"quantitative","scale":{"domain":[-71.5,67.85],"nice":false},"axis":null},"y":{"field":"py","type":"quantitative","scale":{"domain":[-68.45,102.45],"nice":false},"axis":null}}},
  {"data":{"name":"annTR"},"transform":[{"filter":"datum.k == 'E'"},{"calculate":"datum.r*sin(datum.ang*PI/180)","as":"px"},{"calculate":"datum.r*cos(datum.ang*PI/180)","as":"py"}],
   "mark":{"type":"text","font":"Liberation Sans","fontSize":21,"align":"center","baseline":"middle","color":"#000000"},
   "encoding":{"x":{"field":"px","type":"quantitative","scale":{"domain":[-71.5,67.85],"nice":false},"axis":null},"y":{"field":"py","type":"quantitative","scale":{"domain":[-68.45,102.45],"nice":false},"axis":null},"text":{"field":"t"}}},
  {"data":{"name":"annTR"},"transform":[{"filter":"datum.k == 's'"},{"calculate":"datum.r*sin(datum.ang*PI/180)","as":"px"},{"calculate":"datum.r*cos(datum.ang*PI/180)","as":"py"}],
   "mark":{"type":"text","font":"Liberation Sans","fontSize":16,"align":"center","baseline":"middle","color":"#555555"},
   "encoding":{"x":{"field":"px","type":"quantitative","scale":{"domain":[-71.5,67.85],"nice":false},"axis":null},"y":{"field":"py","type":"quantitative","scale":{"domain":[-68.45,102.45],"nice":false},"axis":null},"text":{"field":"t"}}},
  {"data":{"values":[{"t":"x-y"}]},"mark":{"type":"text","font":"Liberation Serif","fontSize":26,"align":"left","baseline":"alphabetic","color":"#000000"},
   "encoding":{"x":{"datum":-5.1,"type":"quantitative","scale":{"domain":[-71.5,67.85],"nice":false},"axis":null},"y":{"datum":-79.1,"type":"quantitative","scale":{"domain":[-68.45,102.45],"nice":false},"axis":null},"text":{"field":"t"}}}
 ]},
{"width":308,"height":417,
 "layer":[
  {"data":{"name":"ringsXZ"},"mark":{"type":"point","shape":"M-1,0C-1,-0.618 -0.552,-1.119 0,-1.119C0.552,-1.119 1,-0.618 1,0C1,0.618 0.552,1.119 0,1.119C-0.552,1.119 -1,0.618 -1,0Z","filled":false,"stroke":"#333333","strokeWidth":1,"strokeDash":[6,5],"opacity":1},
   "encoding":{"x":{"datum":0,"type":"quantitative","scale":{"domain":[-111.6,114.48],"nice":false},"axis":null},"y":{"datum":0,"type":"quantitative","scale":{"domain":[-109.52,163.92],"nice":false},"axis":null},"size":{"field":"ring","type":"quantitative","scale":{"type":"pow","exponent":2,"domain":[0,80],"range":[0,47524]},"legend":null}}},
  {"data":{"name":"outerXZ"},"mark":{"type":"point","shape":"M-1,0C-1,-0.618 -0.552,-1.119 0,-1.119C0.552,-1.119 1,-0.618 1,0C1,0.618 0.552,1.119 0,1.119C-0.552,1.119 -1,0.618 -1,0Z","filled":false,"stroke":"#000000","strokeWidth":1.3,"opacity":1},
   "encoding":{"x":{"datum":0,"type":"quantitative","scale":{"domain":[-111.6,114.48],"nice":false},"axis":null},"y":{"datum":0,"type":"quantitative","scale":{"domain":[-109.52,163.92],"nice":false},"axis":null},"size":{"field":"ring","type":"quantitative","scale":{"type":"pow","exponent":2,"domain":[0,80],"range":[0,47524]},"legend":null}}},
  {"data":{"name":"spokesXZ"},"transform":[{"calculate":"datum.r*sin(datum.ang*PI/180)","as":"px"},{"calculate":"datum.r*cos(datum.ang*PI/180)","as":"py"}],
   "mark":{"type":"rule","stroke":"#333333","strokeWidth":1,"strokeDash":[7,5]},
   "encoding":{"x":{"field":"px","type":"quantitative","scale":{"domain":[-111.6,114.48],"nice":false},"axis":null},"y":{"field":"py","type":"quantitative","scale":{"domain":[-109.52,163.92],"nice":false},"axis":null},"x2":{"datum":0},"y2":{"datum":0}}},
  {"data":{"name":"angXZ"},"transform":[{"calculate":"datum.r*sin(datum.ang*PI/180)","as":"px"},{"calculate":"datum.r*cos(datum.ang*PI/180)","as":"py"}],
   "mark":{"type":"text","font":"Liberation Sans","fontSize":21,"align":"center","baseline":"middle","color":"#000000"},
   "encoding":{"x":{"field":"px","type":"quantitative","scale":{"domain":[-111.6,114.48],"nice":false},"axis":null},"y":{"field":"py","type":"quantitative","scale":{"domain":[-109.52,163.92],"nice":false},"axis":null},"text":{"field":"t"}}},
  {"data":{"name":"radXZ"},"transform":[{"calculate":"datum.r*sin(datum.ang*PI/180)","as":"px"},{"calculate":"datum.r*cos(datum.ang*PI/180)","as":"py"}],
   "mark":{"type":"text","font":"Liberation Sans","fontSize":21,"align":"center","baseline":"middle","color":"#000000"},
   "encoding":{"x":{"field":"px","type":"quantitative","scale":{"domain":[-111.6,114.48],"nice":false},"axis":null},"y":{"field":"py","type":"quantitative","scale":{"domain":[-109.52,163.92],"nice":false},"axis":null},"text":{"field":"t"}}},
  {"data":{"name":"cBL"},"transform":[{"filter":"datum.m == 'Present method' && datum.c == 't'"},{"calculate":"datum.r*sin(datum.ang*PI/180)","as":"px"},{"calculate":"datum.r*cos(datum.ang*PI/180)","as":"py"}],
   "mark":{"type":"line","stroke":"#ff0000","strokeWidth":3.5,"strokeDash":[10,5]},
   "encoding":{"x":{"field":"px","type":"quantitative","scale":{"domain":[-111.6,114.48],"nice":false},"axis":null},"y":{"field":"py","type":"quantitative","scale":{"domain":[-109.52,163.92],"nice":false},"axis":null},"order":{"field":"ang","type":"quantitative"}}},
  {"data":{"name":"cBL"},"transform":[{"filter":"!(datum.m == 'Present method' && datum.c == 't')"},{"calculate":"datum.r*sin(datum.ang*PI/180)","as":"px"},{"calculate":"datum.r*cos(datum.ang*PI/180)","as":"py"}],
   "mark":{"type":"line","strokeWidth":3.5},
   "encoding":{"x":{"field":"px","type":"quantitative","scale":{"domain":[-111.6,114.48],"nice":false},"axis":null},"y":{"field":"py","type":"quantitative","scale":{"domain":[-109.52,163.92],"nice":false},"axis":null},"order":{"field":"ang","type":"quantitative"},"detail":{"field":"c"},
    "color":{"field":"m","type":"nominal","scale":{"domain":["Present method","FIT"],"range":["#ff0000","#0000ff"]},"legend":{"title":null}},
    "strokeDash":{"field":"m","type":"nominal","scale":{"domain":["Present method","FIT"],"range":[[1,0],[10,5]]},"legend":{"title":null}}}},
  {"data":{"name":"annBL"},"transform":[{"filter":"datum.k == 'ell'"},{"calculate":"datum.r*sin(datum.ang*PI/180)","as":"px"},{"calculate":"datum.r*cos(datum.ang*PI/180)","as":"py"}],
   "mark":{"type":"point","shape":"M-1,0C-1,-1.243 -0.552,-2.25 0,-2.25C0.552,-2.25 1,-1.243 1,0C1,1.243 0.552,2.25 0,2.25C-0.552,2.25 -1,1.243 -1,0Z","filled":false,"stroke":"#000000","strokeWidth":1.6,"opacity":1,"size":420},
   "encoding":{"x":{"field":"px","type":"quantitative","scale":{"domain":[-111.6,114.48],"nice":false},"axis":null},"y":{"field":"py","type":"quantitative","scale":{"domain":[-109.52,163.92],"nice":false},"axis":null}}},
  {"data":{"name":"annBL"},"transform":[{"filter":"datum.k == 'E'"},{"calculate":"datum.r*sin(datum.ang*PI/180)","as":"px"},{"calculate":"datum.r*cos(datum.ang*PI/180)","as":"py"}],
   "mark":{"type":"text","font":"Liberation Sans","fontSize":21,"align":"center","baseline":"middle","color":"#000000"},
   "encoding":{"x":{"field":"px","type":"quantitative","scale":{"domain":[-111.6,114.48],"nice":false},"axis":null},"y":{"field":"py","type":"quantitative","scale":{"domain":[-109.52,163.92],"nice":false},"axis":null},"text":{"field":"t"}}},
  {"data":{"name":"annBL"},"transform":[{"filter":"datum.k == 's'"},{"calculate":"datum.r*sin(datum.ang*PI/180)","as":"px"},{"calculate":"datum.r*cos(datum.ang*PI/180)","as":"py"}],
   "mark":{"type":"text","font":"Liberation Sans","fontSize":16,"align":"center","baseline":"middle","color":"#555555"},
   "encoding":{"x":{"field":"px","type":"quantitative","scale":{"domain":[-111.6,114.48],"nice":false},"axis":null},"y":{"field":"py","type":"quantitative","scale":{"domain":[-109.52,163.92],"nice":false},"axis":null},"text":{"field":"t"}}},
  {"data":{"values":[{"t":"x-z plane"}]},"mark":{"type":"text","font":"Liberation Serif","fontSize":26,"align":"left","baseline":"alphabetic","color":"#000000"},
   "encoding":{"x":{"datum":-24.7,"type":"quantitative","scale":{"domain":[-111.6,114.48],"nice":false},"axis":null},"y":{"datum":-125.2,"type":"quantitative","scale":{"domain":[-109.52,163.92],"nice":false},"axis":null},"text":{"field":"t"}}},
  {"data":{"values":[{"t":"plane"}]},"mark":{"type":"text","font":"Liberation Serif","fontSize":26,"align":"left","baseline":"alphabetic","color":"#000000"},
   "encoding":{"x":{"datum":-28.4,"type":"quantitative","scale":{"domain":[-111.6,114.48],"nice":false},"axis":null},"y":{"datum":-148.2,"type":"quantitative","scale":{"domain":[-109.52,163.92],"nice":false},"axis":null},"text":{"field":"t"}}},
  {"data":{"values":[{"t":"b. Two slots."}]},"mark":{"type":"text","font":"Liberation Serif","fontSize":26,"align":"left","baseline":"alphabetic","color":"#000000"},
   "encoding":{"x":{"datum":69.5,"type":"quantitative","scale":{"domain":[-111.6,114.48],"nice":false},"axis":null},"y":{"datum":-167.2,"type":"quantitative","scale":{"domain":[-109.52,163.92],"nice":false},"axis":null},"text":{"field":"t"}}}
 ]},
{"width":308,"height":417,
 "layer":[
  {"data":{"name":"ringsXY"},"mark":{"type":"point","shape":"M-1,0C-1,-0.61 -0.552,-1.104 0,-1.104C0.552,-1.104 1,-0.61 1,0C1,0.61 0.552,1.104 0,1.104C-0.552,1.104 -1,0.61 -1,0Z","filled":false,"stroke":"#333333","strokeWidth":1,"strokeDash":[6,5],"opacity":1},
   "encoding":{"x":{"datum":0,"type":"quantitative","scale":{"domain":[-68.8,70.55],"nice":false},"axis":null},"y":{"datum":0,"type":"quantitative","scale":{"domain":[-68.45,102.45],"nice":false},"axis":null},"size":{"field":"ring","type":"quantitative","scale":{"type":"pow","exponent":2,"domain":[0,50],"range":[0,48841]},"legend":null}}},
  {"data":{"name":"outerXY"},"mark":{"type":"point","shape":"M-1,0C-1,-0.61 -0.552,-1.104 0,-1.104C0.552,-1.104 1,-0.61 1,0C1,0.61 0.552,1.104 0,1.104C-0.552,1.104 -1,0.61 -1,0Z","filled":false,"stroke":"#000000","strokeWidth":1.3,"opacity":1},
   "encoding":{"x":{"datum":0,"type":"quantitative","scale":{"domain":[-68.8,70.55],"nice":false},"axis":null},"y":{"datum":0,"type":"quantitative","scale":{"domain":[-68.45,102.45],"nice":false},"axis":null},"size":{"field":"ring","type":"quantitative","scale":{"type":"pow","exponent":2,"domain":[0,50],"range":[0,48841]},"legend":null}}},
  {"data":{"name":"spokesXY"},"transform":[{"calculate":"datum.r*sin(datum.ang*PI/180)","as":"px"},{"calculate":"datum.r*cos(datum.ang*PI/180)","as":"py"}],
   "mark":{"type":"rule","stroke":"#333333","strokeWidth":1,"strokeDash":[7,5]},
   "encoding":{"x":{"field":"px","type":"quantitative","scale":{"domain":[-68.8,70.55],"nice":false},"axis":null},"y":{"field":"py","type":"quantitative","scale":{"domain":[-68.45,102.45],"nice":false},"axis":null},"x2":{"datum":0},"y2":{"datum":0}}},
  {"data":{"name":"angXY"},"transform":[{"calculate":"datum.r*sin(datum.ang*PI/180)","as":"px"},{"calculate":"datum.r*cos(datum.ang*PI/180)","as":"py"}],
   "mark":{"type":"text","font":"Liberation Sans","fontSize":21,"align":"center","baseline":"middle","color":"#000000"},
   "encoding":{"x":{"field":"px","type":"quantitative","scale":{"domain":[-68.8,70.55],"nice":false},"axis":null},"y":{"field":"py","type":"quantitative","scale":{"domain":[-68.45,102.45],"nice":false},"axis":null},"text":{"field":"t"}}},
  {"data":{"name":"radXY"},"transform":[{"calculate":"datum.r*sin(datum.ang*PI/180)","as":"px"},{"calculate":"datum.r*cos(datum.ang*PI/180)","as":"py"}],
   "mark":{"type":"text","font":"Liberation Sans","fontSize":21,"align":"center","baseline":"middle","color":"#000000"},
   "encoding":{"x":{"field":"px","type":"quantitative","scale":{"domain":[-68.8,70.55],"nice":false},"axis":null},"y":{"field":"py","type":"quantitative","scale":{"domain":[-68.45,102.45],"nice":false},"axis":null},"text":{"field":"t"}}},
  {"data":{"name":"cBR"},"transform":[{"filter":"datum.m == 'Present method' && datum.c == 't'"},{"calculate":"datum.r*sin(datum.ang*PI/180)","as":"px"},{"calculate":"datum.r*cos(datum.ang*PI/180)","as":"py"}],
   "mark":{"type":"line","stroke":"#ff0000","strokeWidth":3.5,"strokeDash":[10,5]},
   "encoding":{"x":{"field":"px","type":"quantitative","scale":{"domain":[-68.8,70.55],"nice":false},"axis":null},"y":{"field":"py","type":"quantitative","scale":{"domain":[-68.45,102.45],"nice":false},"axis":null},"order":{"field":"ang","type":"quantitative"}}},
  {"data":{"name":"cBR"},"transform":[{"filter":"!(datum.m == 'Present method' && datum.c == 't')"},{"calculate":"datum.r*sin(datum.ang*PI/180)","as":"px"},{"calculate":"datum.r*cos(datum.ang*PI/180)","as":"py"}],
   "mark":{"type":"line","strokeWidth":3.5},
   "encoding":{"x":{"field":"px","type":"quantitative","scale":{"domain":[-68.8,70.55],"nice":false},"axis":null},"y":{"field":"py","type":"quantitative","scale":{"domain":[-68.45,102.45],"nice":false},"axis":null},"order":{"field":"ang","type":"quantitative"},"detail":{"field":"c"},
    "color":{"field":"m","type":"nominal","scale":{"domain":["Present method","FIT"],"range":["#ff0000","#0000ff"]},"legend":{"title":null}},
    "strokeDash":{"field":"m","type":"nominal","scale":{"domain":["Present method","FIT"],"range":[[1,0],[10,5]]},"legend":{"title":null}}}},
  {"data":{"name":"annBR"},"transform":[{"filter":"datum.k == 'ell'"},{"calculate":"datum.r*sin(datum.ang*PI/180)","as":"px"},{"calculate":"datum.r*cos(datum.ang*PI/180)","as":"py"}],
   "mark":{"type":"point","shape":"M-1,0C-1,-1.243 -0.552,-2.25 0,-2.25C0.552,-2.25 1,-1.243 1,0C1,1.243 0.552,2.25 0,2.25C-0.552,2.25 -1,1.243 -1,0Z","filled":false,"stroke":"#000000","strokeWidth":1.6,"opacity":1,"size":420},
   "encoding":{"x":{"field":"px","type":"quantitative","scale":{"domain":[-68.8,70.55],"nice":false},"axis":null},"y":{"field":"py","type":"quantitative","scale":{"domain":[-68.45,102.45],"nice":false},"axis":null}}},
  {"data":{"name":"annBR"},"transform":[{"filter":"datum.k == 'E'"},{"calculate":"datum.r*sin(datum.ang*PI/180)","as":"px"},{"calculate":"datum.r*cos(datum.ang*PI/180)","as":"py"}],
   "mark":{"type":"text","font":"Liberation Sans","fontSize":21,"align":"center","baseline":"middle","color":"#000000"},
   "encoding":{"x":{"field":"px","type":"quantitative","scale":{"domain":[-68.8,70.55],"nice":false},"axis":null},"y":{"field":"py","type":"quantitative","scale":{"domain":[-68.45,102.45],"nice":false},"axis":null},"text":{"field":"t"}}},
  {"data":{"name":"annBR"},"transform":[{"filter":"datum.k == 's'"},{"calculate":"datum.r*sin(datum.ang*PI/180)","as":"px"},{"calculate":"datum.r*cos(datum.ang*PI/180)","as":"py"}],
   "mark":{"type":"text","font":"Liberation Sans","fontSize":16,"align":"center","baseline":"middle","color":"#555555"},
   "encoding":{"x":{"field":"px","type":"quantitative","scale":{"domain":[-68.8,70.55],"nice":false},"axis":null},"y":{"field":"py","type":"quantitative","scale":{"domain":[-68.45,102.45],"nice":false},"axis":null},"text":{"field":"t"}}},
  {"data":{"values":[{"t":"x-y"}]},"mark":{"type":"text","font":"Liberation Serif","fontSize":26,"align":"left","baseline":"alphabetic","color":"#000000"},
   "encoding":{"x":{"datum":-2.4,"type":"quantitative","scale":{"domain":[-68.8,70.55],"nice":false},"axis":null},"y":{"datum":-78.3,"type":"quantitative","scale":{"domain":[-68.45,102.45],"nice":false},"axis":null},"text":{"field":"t"}}}
 ]}
]
}
